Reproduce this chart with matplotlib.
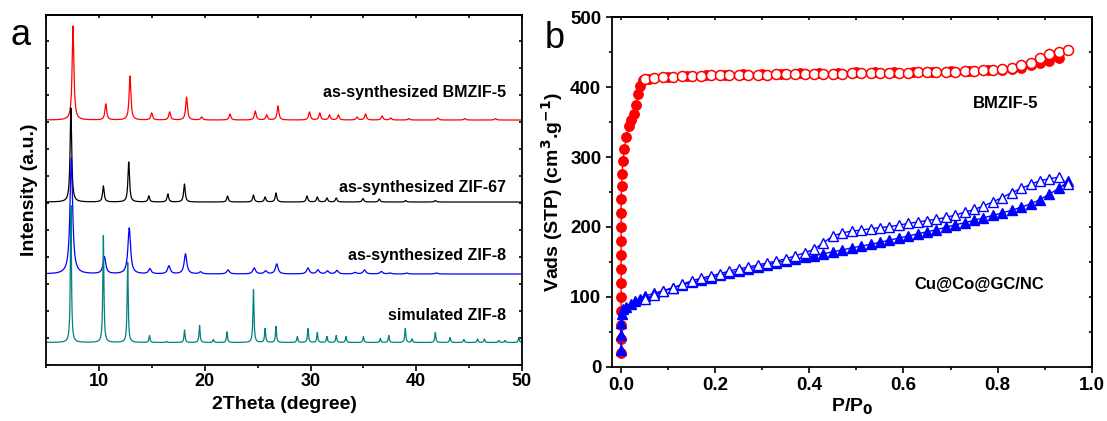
import numpy as np
import matplotlib.pyplot as plt
from matplotlib.ticker import MultipleLocator

plt.rcParams['font.family'] = ['Liberation Sans', 'DejaVu Sans']
plt.rcParams['font.weight'] = 'bold'

# ---------------- panel a : XRD peak lists (2theta, height, fwhm) ----------------
bmzif_base = 245
bmzif_pos = [7.53, 10.63, 12.92, 14.97, 16.67, 18.27, 19.7, 22.38, 24.77, 25.85, 26.92,
             29.9, 30.87, 31.79, 32.63, 34.4, 35.2, 36.77, 37.58, 39.3, 42.06, 44.6, 47.5]
bmzif_hgt = [94, 16, 44, 7, 8, 23, 3, 6, 9, 5, 14, 8, 7, 5, 5, 3, 6, 4, 2, 1.5, 2, 1.5, 1.5]
bmzif_fwhm = 0.2

zif67_base = 163
zif67_pos = [7.33, 10.4, 12.8, 14.7, 16.5, 18.07, 22.15, 24.6, 25.7, 26.73, 29.66, 30.64,
             31.55, 32.43, 34.96, 36.5, 39.0, 41.8]
zif67_hgt = [94, 16, 40, 6, 8, 18, 6, 7, 5, 9, 6, 5, 4, 4, 3.5, 3, 1.5, 1.5]
zif67_fwhm = 0.18

zif8_base = 91
zif8_pos = [7.37, 10.5, 12.85, 14.8, 16.6, 18.17, 19.6, 22.2, 24.67, 25.75, 26.8, 29.76,
            30.7, 31.6, 32.5, 34.2, 35.1, 36.7, 37.5, 39.1, 41.9]
zif8_hgt = [116, 17, 46, 5, 8, 20, 2, 4, 6, 3, 10, 6, 4, 3, 3.5, 1.5, 4, 2.5, 1, 1, 1]
zif8_fwhm = 0.3

sim_base = 22.5
sim_pos = [7.33, 10.4, 12.7, 14.76, 16.4, 18.08, 19.5, 20.8, 22.1, 24.6, 25.7, 26.73, 28.75,
           29.76, 30.64, 31.55, 32.43, 33.35, 35.0, 36.6, 37.4, 38.96, 39.6, 41.8, 43.2,
           44.5, 45.8, 46.45, 47.8, 48.4, 49.7]
sim_hgt = [137, 107, 80, 7, 1, 12.5, 17, 3, 10.5, 53, 14, 16, 6, 14, 10, 6, 7, 6, 6, 4, 7,
           14, 3.5, 10, 5, 3, 3.5, 3.5, 2, 2, 5]
sim_fwhm = 0.12

xrd_labels = ['as-synthesized BMZIF-5', 'as-synthesized ZIF-67',
              'as-synthesized ZIF-8', 'simulated ZIF-8']
xrd_label_y = [273, 178, 110, 50]

# ---------------- panel b : N2 isotherms ----------------
bm_ads_p = [0, 0, 0, 0, 0, 0, 0, 0, 0, 0, 0, 0, 0.001, 0.002, 0.004, 0.007, 0.011, 0.016,
            0.02, 0.028, 0.032, 0.035, 0.04, 0.047, 0.06, 0.1, 0.14, 0.18, 0.22, 0.26, 0.3,
            0.34, 0.38, 0.42, 0.46, 0.5, 0.54, 0.58, 0.62, 0.66, 0.7, 0.74, 0.78, 0.81,
            0.83, 0.85, 0.87, 0.89, 0.91, 0.93]
bm_ads_v = [20, 40, 60, 80, 100, 120, 140, 160, 180, 200, 220, 240, 259, 276, 294, 312, 329,
            344, 353, 362, 375, 390, 402, 410, 412, 414, 416, 417, 418, 418.5, 419, 419.5,
            420, 420, 420.5, 421, 421, 421.5, 422, 422, 422.5, 423, 424, 425, 426, 428,
            431, 435, 438, 442]

des_p = [0.05, 0.07, 0.09, 0.11, 0.13, 0.15, 0.17, 0.19, 0.21, 0.23, 0.25, 0.27, 0.29, 0.31,
         0.33, 0.35, 0.37, 0.39, 0.41, 0.43, 0.45, 0.47, 0.49, 0.51, 0.53, 0.55, 0.57, 0.59,
         0.61, 0.63, 0.65, 0.67, 0.69, 0.71, 0.73, 0.75, 0.77, 0.79, 0.81, 0.83, 0.85, 0.87,
         0.89, 0.91, 0.93, 0.95]
bm_des_v = [411.5, 413, 414, 415, 415.5, 416, 416.5, 417, 417, 417.5, 417.5, 418, 418, 418,
            418.5, 418.5, 419, 419, 419, 419.5, 419.5, 419.5, 420, 420, 420, 420, 420.5,
            420.5, 420.5, 421, 421, 421.5, 421.5, 422, 422.5, 423, 424, 425, 426, 428, 431,
            435, 441, 447, 451, 452.5]

cu_ads_p = [0, 0, 0, 0.001, 0.004, 0.01, 0.02, 0.03, 0.04] + des_p
cu_ads_v = [24, 45, 62, 76, 82, 86, 90, 94, 97,
            101, 105, 109, 113, 117, 120.5, 124, 127.5, 131, 134, 137, 140, 143, 146, 149,
            151.5, 154, 156.5, 159, 161.5, 164.5, 167, 170, 172.5, 175, 178, 181, 184, 187,
            190, 193, 196, 199.5, 203, 206, 209.5, 213, 216.5, 220, 224, 228, 233, 239,
            247, 255, 265]
cu_des_v = [97.5, 102, 108, 113, 118, 123, 126.5, 130, 133, 137, 140, 142.5, 145.5, 148.5,
            151, 154.5, 158.5, 163, 168, 177.5, 187, 191.5, 194, 195.5, 197.5, 199, 200.5,
            202.5, 205, 207, 209, 211, 213.5, 217, 221, 225, 230, 236, 242, 249, 255, 261,
            266, 269, 271, 261]


def pattern(x, base, pos, hgt, w):
    y = np.full_like(x, float(base))
    for c, h in zip(pos, hgt):
        y += h / (1 + ((x - c) / (w / 2)) ** 2)
    return y


fig = plt.figure(figsize=(11.07, 4.21), dpi=100)
axa = fig.add_axes([0.0418, 0.133, 0.4297, 0.832])
axb = fig.add_axes([0.5526, 0.129, 0.4336, 0.830])

# ---- panel a ----
tt = np.linspace(5, 50, 9000)
axa.plot(tt, pattern(tt, bmzif_base, bmzif_pos, bmzif_hgt, bmzif_fwhm), color='#ff0000', lw=0.9)
axa.plot(tt, pattern(tt, zif67_base, zif67_pos, zif67_hgt, zif67_fwhm), color='black', lw=0.9)
axa.plot(tt, pattern(tt, zif8_base, zif8_pos, zif8_hgt, zif8_fwhm), color='#0000ff', lw=0.9)
axa.plot(tt, pattern(tt, sim_base, sim_pos, sim_hgt, sim_fwhm), color='#008080', lw=0.9)
for lab, yy in zip(xrd_labels, xrd_label_y):
    axa.text(48.5, yy, lab, ha='right', va='center', fontsize=11.5, fontweight='bold')

axa.set_xlim(5, 50)
axa.set_ylim(0, 350.3)
axa.xaxis.set_major_locator(MultipleLocator(10))
axa.xaxis.set_minor_locator(MultipleLocator(5))
axa.yaxis.set_major_locator(MultipleLocator(27))
axa.tick_params(axis='x', which='major', direction='out', length=4, width=1.2,
                labelsize=13, pad=2, top=False)
axa.tick_params(axis='x', which='minor', direction='out', length=2.4, width=1.2, top=False)
axa.tick_params(axis='y', which='major', direction='in', length=2, width=1.2,
                left=True, right=True, labelleft=False)
ta = axa.secondary_xaxis('top')
ta.xaxis.set_major_locator(MultipleLocator(5))
ta.tick_params(direction='in', length=2, width=1.2, labeltop=False)
axa.set_xlabel('2Theta (degree)', fontsize=14, fontweight='bold', labelpad=4)
axa.set_ylabel('Intensity (a.u.)', fontsize=14, fontweight='bold', labelpad=6)
axa.text(-0.075, 0.99, 'a', transform=axa.transAxes, fontsize=26, fontweight='normal',
         ha='left', va='top')

# ---- panel b ----
axb.plot(bm_ads_p, bm_ads_v, '-o', color='#ff0000', ms=6.8, lw=1, mec='#ff0000')
axb.plot(des_p, bm_des_v, '-o', color='#ff0000', ms=7.2, lw=1, mfc='white', mec='#ff0000', mew=1.1)
axb.plot(cu_ads_p, cu_ads_v, '-^', color='#0000ff', ms=7.5, lw=1, mec='#0000ff')
axb.plot(des_p, cu_des_v, '-^', color='#0000ff', ms=7.8, lw=1, mfc='white', mec='#0000ff', mew=1.0)
axb.text(0.816, 376, 'BMZIF-5', ha='center', va='center', fontsize=12, fontweight='bold')
axb.text(0.76, 118, 'Cu@Co@GC/NC', ha='center', va='center', fontsize=12, fontweight='bold')

axb.set_xlim(-0.02, 1.0)
axb.set_ylim(0, 500)
axb.xaxis.set_major_locator(MultipleLocator(0.2))
axb.xaxis.set_minor_locator(MultipleLocator(0.1))
axb.yaxis.set_major_locator(MultipleLocator(100))
axb.yaxis.set_minor_locator(MultipleLocator(50))
axb.tick_params(axis='both', which='major', direction='out', length=4, width=1.2,
                labelsize=13.5, top=False, right=False)
axb.tick_params(axis='both', which='minor', direction='out', length=2.4, width=1.2,
                top=False, right=False)
tb = axb.secondary_xaxis('top')
tb.xaxis.set_major_locator(MultipleLocator(0.1))
tb.tick_params(direction='in', length=2, width=1.2, labeltop=False)
rb = axb.secondary_yaxis('right')
rb.yaxis.set_major_locator(MultipleLocator(50))
rb.tick_params(direction='in', length=2, width=1.2, labelright=False)
axb.set_xlabel('P/P$_\\mathbf{0}$', fontsize=14, fontweight='bold', labelpad=2)
axb.set_ylabel('Vads (STP) (cm$^\\mathbf{3}$.g$^\\mathbf{-1}$)', fontsize=14,
               fontweight='bold', labelpad=4)
axb.text(-0.14, 0.99, 'b', transform=axb.transAxes, fontsize=26, fontweight='normal',
         ha='left', va='top')

for ax in (axa, axb, ta, tb, rb):
    for sp in ax.spines.values():
        sp.set_linewidth(1.3)

fig.savefig('out.png', dpi=100)
